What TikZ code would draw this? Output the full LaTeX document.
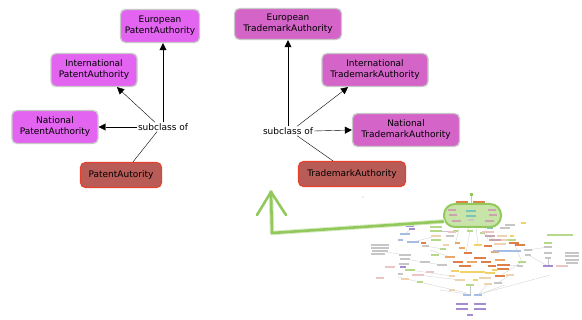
\documentclass[tikz,border=0pt]{standalone}
\usepackage{fontspec}
\setmainfont{DejaVu Sans}
\usetikzlibrary{arrows.meta}

\definecolor{patentfill}{HTML}{E264F0}
\definecolor{tmfill}{HTML}{D464C8}
\definecolor{boxgray}{HTML}{C8C8C8}
\definecolor{rootfill}{HTML}{B95C58}
\definecolor{rootdraw}{HTML}{E5412C}
\definecolor{ovgreen}{HTML}{93C95C}
\definecolor{ovfill}{HTML}{C9E4A8}
% thumbnail colours
\definecolor{thOr}{HTML}{EDA866}
\definecolor{thDo}{HTML}{DE7F48}
\definecolor{thYe}{HTML}{F1D268}
\definecolor{thGr}{HTML}{B6D88A}
\definecolor{thPu}{HTML}{A48ACF}
\definecolor{thBl}{HTML}{A6BDE2}
\definecolor{thGy}{HTML}{C6C6C6}
\definecolor{thPk}{HTML}{EBC6C4}
\definecolor{thMv}{HTML}{C9A6AE}
\definecolor{thTl}{HTML}{76C7B8}
\definecolor{thTan}{HTML}{EDD3B0}

\begin{document}
\begin{tikzpicture}[x=1pt,y=-1pt,>={Triangle[length=7pt,width=7pt]},
    every node/.style={font=\fontsize{9}{11}\selectfont},
    subclass/.style={rectangle,rounded corners=5pt,draw=boxgray,line width=1.3pt,
      align=center,minimum height=33pt,inner sep=1pt},
    root/.style={rectangle,rounded corners=5pt,fill=rootfill,draw=rootdraw,
      line width=1.2pt,minimum height=25pt,inner sep=1pt},
    rel/.style={inner sep=1pt,fill=white},
    thline/.style={draw=black!22,line width=0.25pt},
    glow/.style={line width=2.6pt,draw=ovgreen,line cap=round,line join=round}]
  \useasboundingbox (0,0) rectangle (582,320);

  % patent authorities
  \node[subclass,fill=patentfill,minimum width=79pt] (europat) at (160,26) {European\\PatentAuthority};
  \node[subclass,fill=patentfill,minimum width=86pt] (intpat) at (94,70) {International\\PatentAuthority};
  \node[subclass,fill=patentfill,minimum width=86pt] (natpat) at (55,127) {National\\PatentAuthority};
  \node[rel] (patrel) at (163,127) {subclass of};
  \node[root,minimum width=81pt] (patroot) at (121,175) {PatentAutority};

  \draw[->] (patrel.north) -- (patrel.north |- europat.south);
  \draw[->] ([xshift=-8pt]patrel.north) -- ([xshift=23pt]intpat.south);
  \draw[->] (patrel.west) -- (natpat.east);
  \draw ([xshift=12pt]patroot.north) -- ([xshift=-6pt]patrel.south);

  % trademark authorities
  \node[subclass,fill=tmfill,minimum width=107pt,minimum height=31pt] (eurotm) at (288,24) {European\\TrademarkAuthority};
  \node[subclass,fill=tmfill,minimum width=106pt] (inttm) at (375,70) {International\\TrademarkAuthority};
  \node[subclass,fill=tmfill,minimum width=107pt] (nattm) at (406,130) {National\\TrademarkAuthority};
  \node[rel] (tmrel) at (288,131) {subclass of};
  \node[root,minimum width=107pt] (tmroot) at (352,174) {TrademarkAuthority};

  \draw[->] (tmrel.north) -- (tmrel.north |- eurotm.south);
  \draw[->] ([xshift=9pt]tmrel.north) -- ([xshift=-27pt]inttm.south);
  \draw[->] (tmrel.east) -- (nattm.west);
  \draw ([xshift=9pt]tmrel.south) -- ([xshift=-19pt]tmroot.north);

  % overview thumbnail
  \foreach \a/\b/\c/\d in {398/277/467/293, 550/275/480/294, 440/290/467/294, 505/285/480/294,
      460/225/455/245, 466/226/470/231, 476/226/478/245, 485/225/488/240, 470/231/466/253,
      471/196/471/204, 430/250/450/257, 413/242/436/236, 425/246/443/249, 405/259/442/265,
      410/270/452/276, 528/250/548/247, 528/255/548/266, 548/258/548/266, 520/266/502/265,
      514/243/522/262, 455/231/436/231, 482/233/495/240, 418/275/460/280, 500/276/522/262,
      380/251/405/255, 470/285/470/295, 488/284/478/295, 498/283/510/275, 412/228/405/234}
    \draw[thline] (\a,\b) -- (\c,\d);
  \foreach \x/\y/\w/\c in {462/202/12/thDo, 479/202/12/thDo, 470/231/6/thGr, 455/231/5/thGr,
      482/233/5/thGr, 410/226/8/thPu, 412/229/6/thPu, 405/234/10/thBl, 413/242/12/thBl,
      400/240/5/thBl, 423/243/5/thDo, 425/246/7/thGy, 436/227/12/thGr, 436/231/12/thGr,
      436/236/10/thTan, 436/240/10/thGr, 452/232/8/thPk, 450/236/8/thGy,
      380/245/18/thGy, 380/248/18/thGy, 380/251/16/thGy, 378/254/14/thGy,
      405/255/12/thGy, 405/259/10/thGy, 404/264/10/thGy, 390/267/10/thPk, 403/267/6/thPu,
      410/270/10/thGr, 418/275/12/thPk, 430/272/8/thPk, 420/282/6/thGr, 400/274/5/thGy,
      405/279/8/thTan, 380/278/8/thPk, 425/262/10/thGy, 435/255/8/thGr, 442/265/10/thGy,
      443/249/6/thGr, 446/245/6/thTan,
      450/257/10/thOr, 458/262/10/thDo, 465/266/12/thDo, 472/262/10/thOr, 480/258/12/thDo,
      486/262/10/thDo, 492/266/8/thDo, 500/260/10/thOr, 455/271/8/thYe, 466/272/12/thYe,
      478/272/14/thYe, 490/273/10/thYe, 485/278/12/thTan, 500/276/10/thDo, 505/265/10/thDo,
      452/276/6/thTan, 460/280/10/thTan, 475/280/5/thYe, 488/284/8/thTan, 470/285/8/thGr,
      452/290/6/thTan, 498/283/8/thGy, 478/245/8/thYe, 462/248/6/thOr, 468/253/8/thDo,
      488/246/8/thDo, 495/252/8/thOr, 457/243/5/thOr,
      488/232/12/thPk, 490/236/10/thMv, 495/240/12/thMv, 502/236/10/thTan, 506/240/10/thTan,
      500/244/12/thTan, 512/240/8/thGr, 512/236/4/thYe, 490/228/6/thTl, 505/228/10/thGy,
      514/243/10/thDo, 507/251/28/thBl, 520/245/10/thDo, 528/250/8/thGy, 528/255/6/thGy,
      522/262/8/thGr, 520/266/6/thGy, 502/265/10/thDo, 503/269/12/thDo, 495/270/6/thYe,
      510/275/8/thTan, 523/223/5/thYe, 510/225/10/thGy,
      560/235/26/thGr, 548/243/8/thGr, 548/247/8/thGy, 548/253/8/thGy, 548/258/6/thGy,
      548/266/10/thPu, 562/266/12/thPk, 572/253/14/thGy, 572/256/14/thGy, 572/260/14/thGy,
      572/263/12/thGy,
      467/295/8/thBl, 478/295/8/thBl, 462/304/12/thPu, 480/304/12/thPu, 462/309/12/thPu,
      480/309/12/thPu, 470/315/6/thPu}
    \fill[\c] (\x-\w/2,\y-1.4) rectangle (\x+\w/2,\y+1.4);
  \fill[ovgreen] (469.5,193.5) rectangle (472.5,196.5);
  \fill[black!30] (363,197) circle (0.6pt);

  \node[draw=ovgreen,line width=2pt,fill=ovfill,rounded corners=11pt,
    minimum width=57pt,minimum height=23pt,inner sep=0pt] (overview) at (472.5,215.5) {};
  \foreach \x/\y/\w/\c in {452/210/8/thMv, 453/215/8/thMv, 456/221/9/thMv, 492/210/8/thMv,
      493/215/8/thMv, 489/221/9/thMv, 471/211/10/thTl, 471/216/10/thTl, 471/220/6/thGy}
    \fill[\c] (\x-\w/2,\y-1.2) rectangle (\x+\w/2,\y+1.2);

  % pointer back to the detail
  \coordinate (tip) at (271,192);
  \draw[glow,draw=ovgreen!35,line width=4.5pt] ([yshift=-6pt]overview.west) -- (272,233) -- (tip);
  \draw[glow] ([yshift=-6pt]overview.west) -- (272,233) -- (tip);
  \draw[glow] (257,215) -- (tip) -- (286,215);
\end{tikzpicture}
\end{document}
